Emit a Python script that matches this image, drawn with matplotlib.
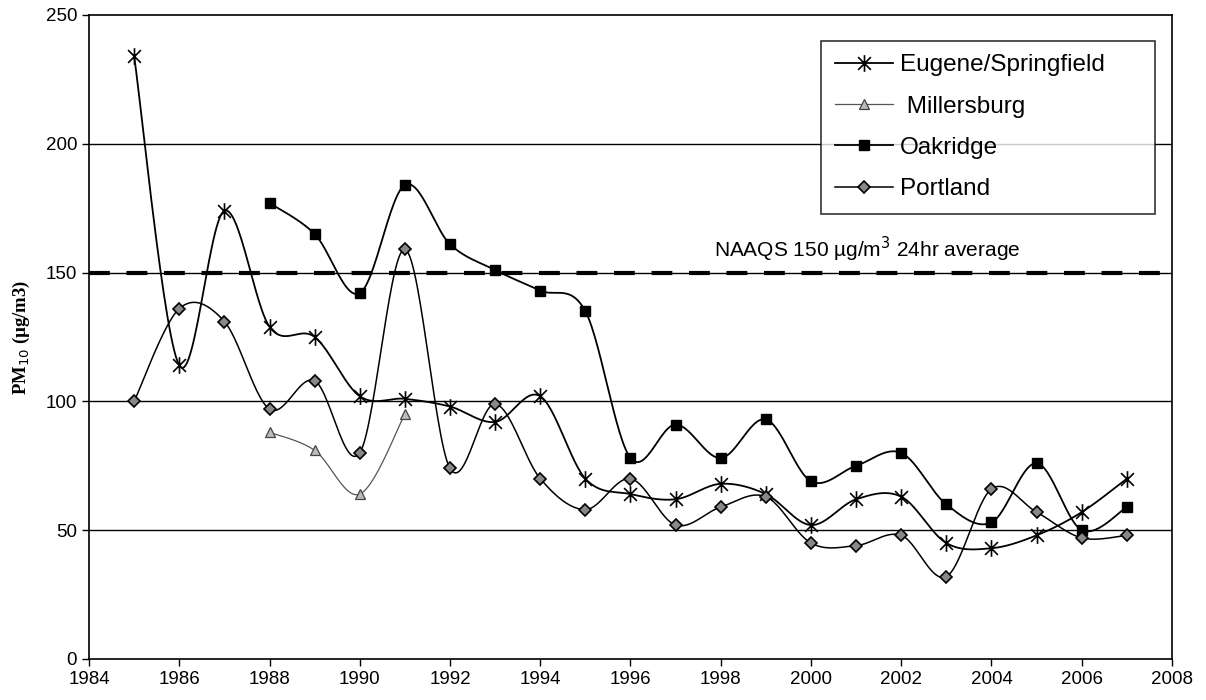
import matplotlib
matplotlib.use("Agg")
import matplotlib.pyplot as plt
import numpy as np
from matplotlib.path import Path

plt.rcParams['font.family'] = ['Liberation Sans', 'DejaVu Sans']

# values
eugene_years = list(range(1985, 2008))
eugene = [234, 114, 174, 129, 125, 102, 101, 98, 92, 102, 70, 64, 62, 68, 64,
          52, 62, 63, 45, 43, 48, 57, 70]

millers_years = [1988, 1989, 1990, 1991]
millers = [88, 81, 64, 95]

oak_years = list(range(1988, 2008))
oakridge = [177, 165, 142, 184, 161, 151, 143, 135, 78, 91, 78, 93, 69, 75, 80,
            60, 53, 76, 50, 59]

port_years = list(range(1985, 2008))
portland = [100, 136, 131, 97, 108, 80, 159, 74, 99, 70, 58, 70, 52, 59, 63,
            45, 44, 48, 32, 66, 57, 47, 48]

naaqs = 150
grid_levels = [50, 100, 150, 200]
labels = ["Eugene/Springfield", " Millersburg", "Oakridge", "Portland"]


def smooth(xs, ys, n=30):
    # excel style bezier smoothing through the points
    x = np.asarray(xs, float)
    y = np.asarray(ys, float)
    px = np.concatenate([[x[0]], x, [x[-1]]])
    py = np.concatenate([[y[0]], y, [y[-1]]])
    t = np.linspace(0, 1, n)
    outx, outy = [], []
    for i in range(len(x) - 1):
        p0 = np.array([px[i + 1], py[i + 1]])
        p3 = np.array([px[i + 2], py[i + 2]])
        c1 = p0 + (np.array([px[i + 2], py[i + 2]]) - np.array([px[i], py[i]])) / 6
        c2 = p3 - (np.array([px[i + 3], py[i + 3]]) - np.array([px[i + 1], py[i + 1]])) / 6
        b = ((1 - t) ** 3)[:, None] * p0 + (3 * (1 - t) ** 2 * t)[:, None] * c1 \
            + (3 * (1 - t) * t ** 2)[:, None] * c2 + (t ** 3)[:, None] * p3
        outx.extend(b[:, 0])
        outy.extend(b[:, 1])
    return outx, outy


star = Path([(-1, -1), (1, 1), (-1, 1), (1, -1), (0, -1.3), (0, 1.3)],
            [Path.MOVETO, Path.LINETO, Path.MOVETO, Path.LINETO, Path.MOVETO, Path.LINETO])

fig = plt.figure(figsize=(12.06, 7), dpi=100)
ax = fig.add_axes([0.0738, 0.0586, 0.898, 0.92])

for g in grid_levels:
    ax.axhline(g, color='black', lw=1.0, zorder=1)
ax.axhline(naaqs, color='black', lw=3, dashes=(5, 4), zorder=1)
ax.text(1997.85, naaqs + 3.5, "NAAQS 150 µg/m$^3$ 24hr average", fontsize=15,
        ha='left', va='bottom')

series = [
    (eugene_years, eugene, dict(color='black', lw=1.3, marker=star, ms=12, mew=1.2,
                                mfc='none', mec='black')),
    (millers_years, millers, dict(color='#555555', lw=0.9, marker='^', ms=7, mew=0.9,
                                  mfc='#bbbbbb', mec='#444444')),
    (oak_years, oakridge, dict(color='black', lw=1.3, marker='s', ms=7, mfc='black',
                               mec='black')),
    (port_years, portland, dict(color='black', lw=1.1, marker='D', ms=6, mfc='#888888',
                                mec='black', mew=1.2)),
]

handles = []
for (xs, ys, st), lab in zip(series, labels):
    sx, sy = smooth(xs, ys)
    ax.plot(sx, sy, color=st['color'], lw=st['lw'], zorder=2)
    ax.plot(xs, ys, ls='none', zorder=3, **{k: v for k, v in st.items() if k not in ('color', 'lw')})
    h, = ax.plot([], [], label=lab, **st)
    handles.append(h)

ax.set_xlim(1984, 2008)
ax.set_ylim(0, 250)
ax.set_xticks(range(1984, 2009, 2))
ax.set_yticks(range(0, 251, 50))
ax.tick_params(direction='out', length=5, width=1, labelsize=13.5)
for s in ax.spines.values():
    s.set_linewidth(1.2)

ax.set_ylabel("PM$_{10}$ (µg/m3)", family='Liberation Serif', fontweight='bold',
              fontsize=13.5, labelpad=10)

leg = ax.legend(handles=handles, loc='upper left', bbox_to_anchor=(0.676, 0.70, 0.308, 0.26),
                mode='expand', fontsize=17.5, frameon=True, fancybox=False,
                edgecolor='black', handlelength=2.4, labelspacing=0.79, borderpad=0.56,
                handletextpad=0.3, borderaxespad=0)
leg.get_frame().set_linewidth(1.2)

fig.savefig("out.png", dpi=100)
